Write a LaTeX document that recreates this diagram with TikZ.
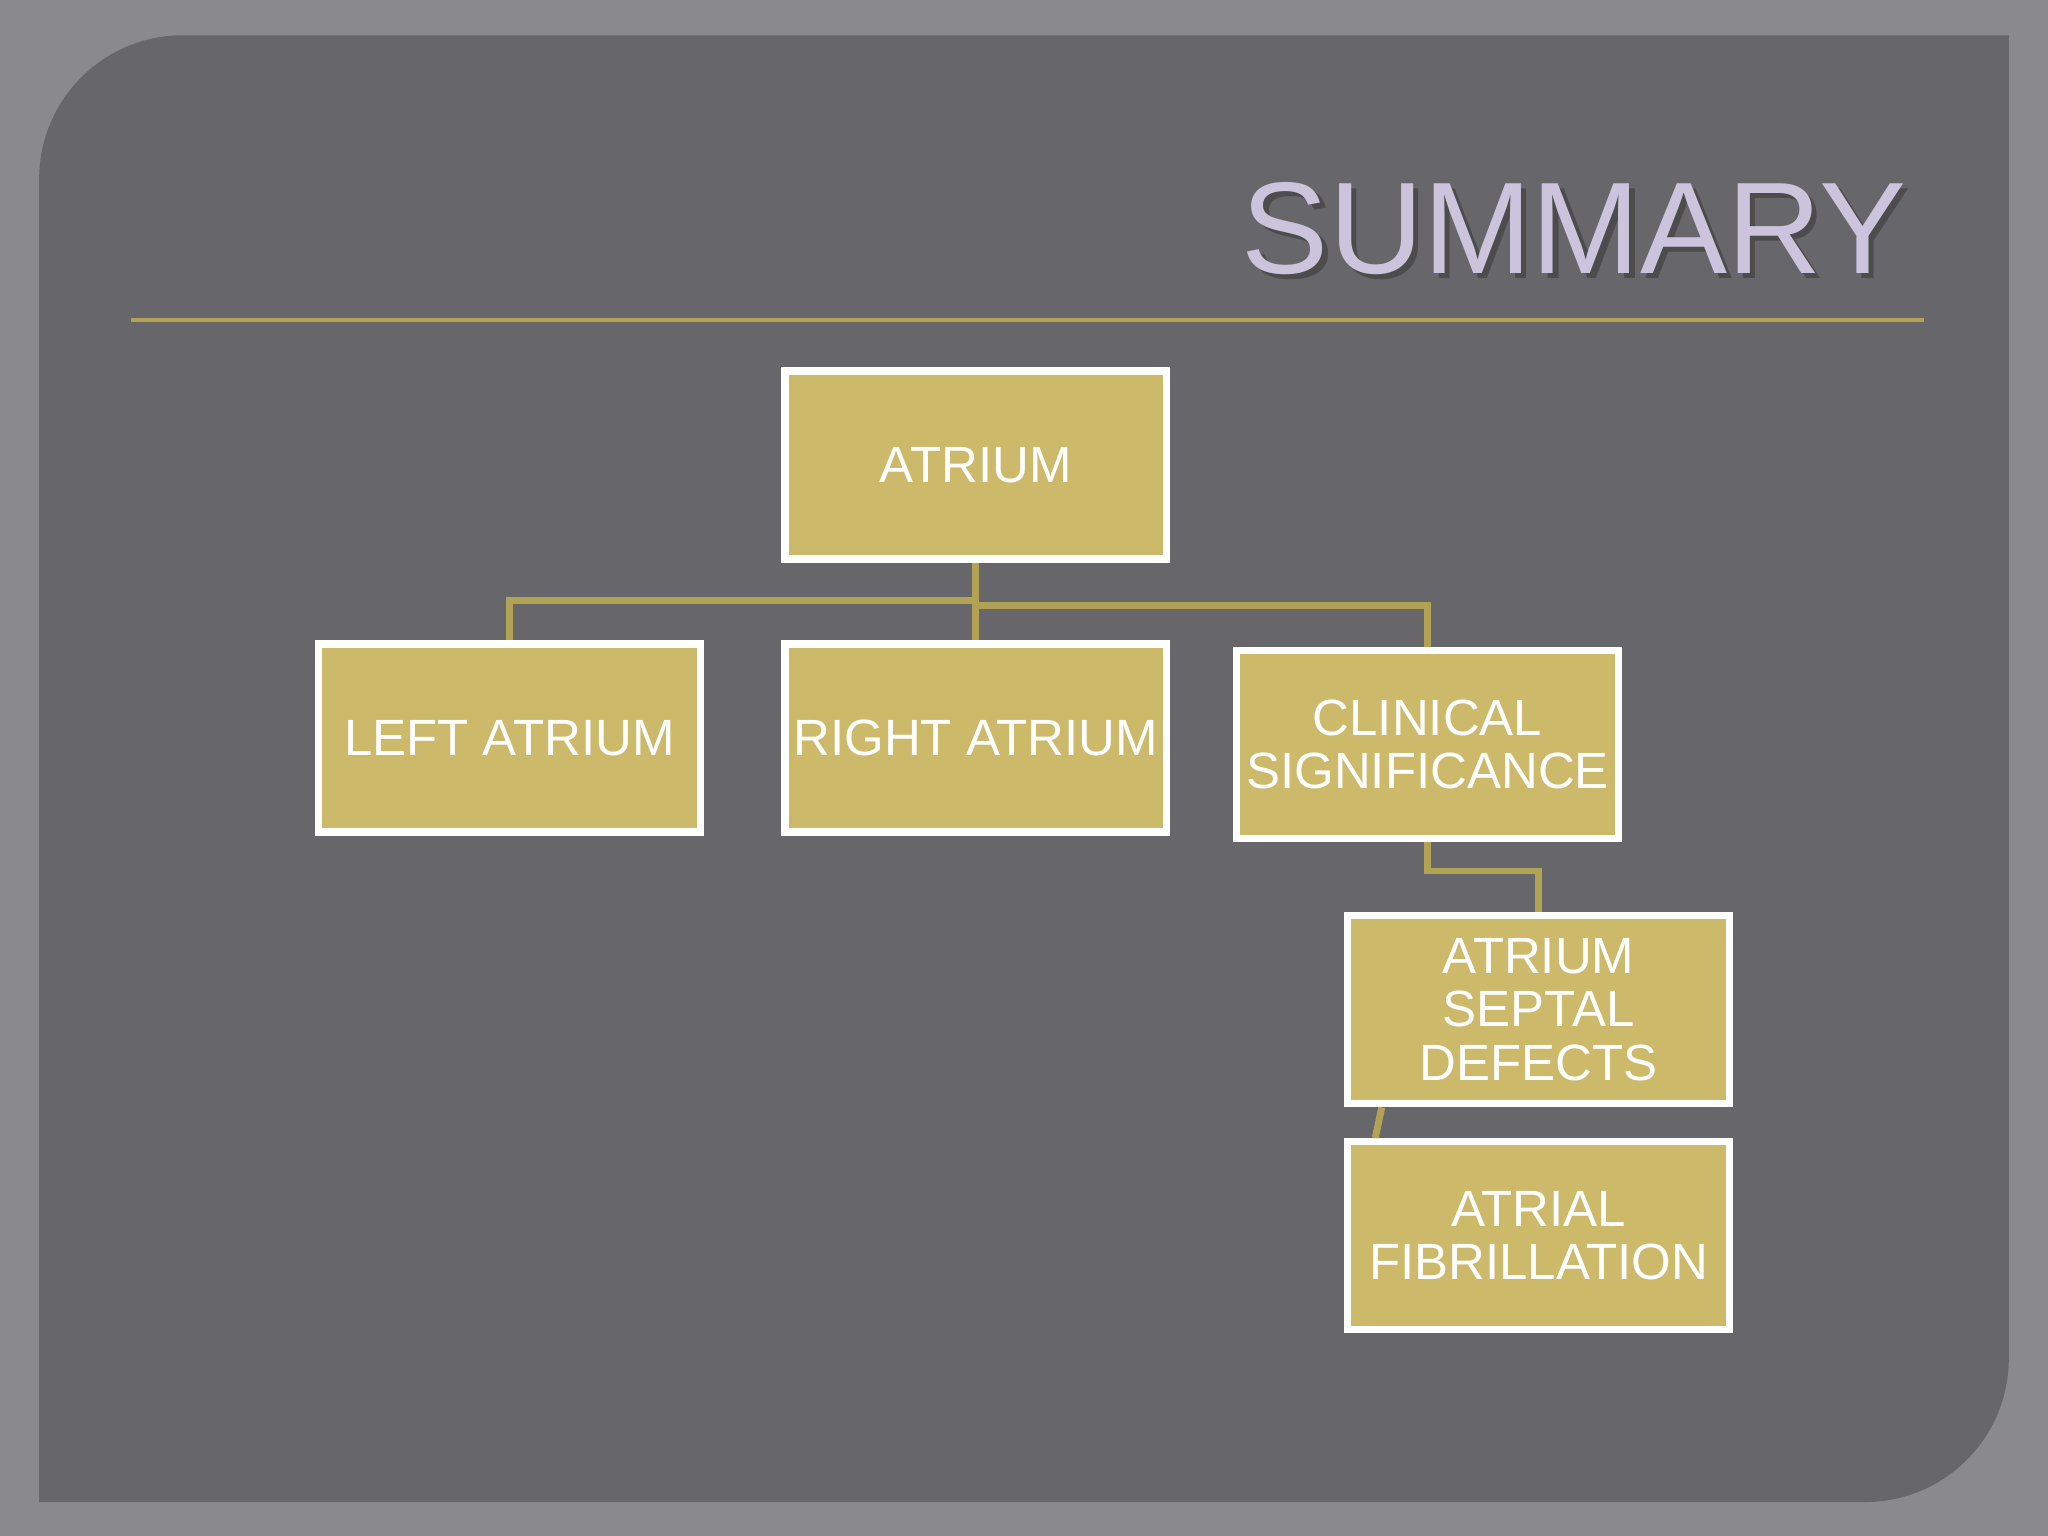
\documentclass[tikz,border=0pt]{standalone}
\usepackage{fontspec}
\setmainfont{Liberation Sans}
\begin{document}
\begin{tikzpicture}[x=0.01cm,y=-0.01cm,
  box/.style={draw=white,line width=1.6pt,fill=boxc,minimum width=2.92cm,minimum height=1.44cm,inner sep=0pt,text=white,font=\fontsize{11.1}{11.6}\selectfont,align=center},
  conn/.style={draw=linec,line width=1.5pt}]
\definecolor{bgc}{HTML}{8A898E}
\definecolor{panel}{HTML}{67666B}
\definecolor{boxc}{HTML}{CDB96A}
\definecolor{linec}{HTML}{B2A253}
\definecolor{titlec}{HTML}{CCC4DC}
\fill[bgc] (0,0) rectangle (1568,1176);
\fill[panel] (30,1150) -- (30,137) arc[start angle=180,end angle=270,radius=110] -- (1538,27) -- (1538,1040) arc[start angle=0,end angle=90,radius=110] -- cycle;
\node[anchor=east,text=black!70,font=\fontsize{28.4}{28.4}\selectfont] at (1476,179) {SUMMARY};
\node[anchor=east,text=titlec,font=\fontsize{28.4}{28.4}\selectfont] (title) at (1472,175) {SUMMARY};
\draw[draw=linec,line width=1pt] (100,245) -- (1473,245);
\node[box] (a) at (747,356) {ATRIUM};
\node[box] (l) at (390,565) {LEFT ATRIUM};
\node[box] (r) at (747,565) {RIGHT ATRIUM};
\node[box] (c) at (1093,570) {CLINICAL\\SIGNIFICANCE};
\node[box] (s) at (1178,773) {ATRIUM\\SEPTAL\\DEFECTS};
\node[box] (f) at (1178,946) {ATRIAL\\FIBRILLATION};
\draw[conn] (a.south) -- (r.north);
\draw[conn] (a.south) ++(0,29) -| (l.north);
\draw[conn] (a.south) ++(0,33) -| (c.north);
\draw[conn] (c.south) -- ++(0,22) -| (s.north);
\draw[conn] ([xshift=-1.2cm]s.south) -- ([xshift=-1.25cm]f.north);
\end{tikzpicture}
\end{document}
